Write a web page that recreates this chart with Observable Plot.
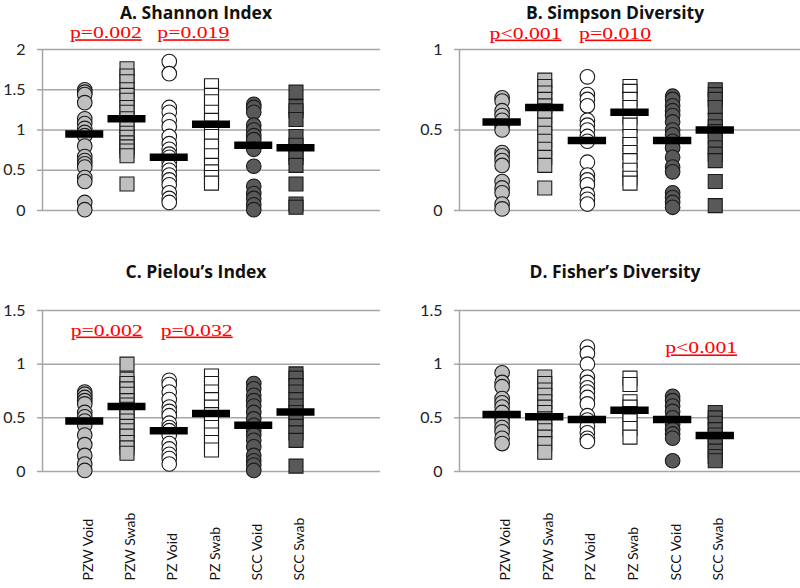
<!DOCTYPE html>
<html><head><meta charset="utf-8">
<script src="https://cdn.jsdelivr.net/npm/d3@7"></script>
<script src="https://cdn.jsdelivr.net/npm/@observablehq/plot@0.6"></script>
<style>
body{margin:0;background:#fff;}
#wrap{position:relative;width:800px;height:588px;overflow:hidden;background:#fff;}
.panel{position:absolute;}
.title{position:absolute;width:300px;text-align:center;font-family:"Open Sans",Lato,sans-serif;font-weight:bold;font-size:17.5px;line-height:16px;color:#111;white-space:nowrap;}
</style></head><body><div id="wrap"></div>
<script>
// ---- data ----
const categories = ["PZW Void","PZW Swab","PZ Void","PZ Swab","SCC Void","SCC Swab"];

const shannonValues = [
  [1.50,1.47,1.44,1.34,1.14,1.08,1.02,0.97,0.93,0.80,0.67,0.62,0.58,0.54,0.41,0.36,0.10,0.01],
  [1.76,1.67,1.60,1.50,1.43,1.37,1.28,1.22,1.14,1.04,0.96,0.91,0.84,0.79,0.74,0.68,0.33],
  [1.85,1.70,1.28,1.22,1.12,1.04,0.92,0.83,0.76,0.70,0.66,0.60,0.55,0.50,0.44,0.38,0.32,0.22,0.15,0.10],
  [1.55,1.43,1.35,1.22,1.12,1.02,0.92,0.80,0.68,0.56,0.48,0.41,0.34],
  [1.32,1.28,1.22,1.06,1.00,0.93,0.88,0.76,0.55,0.30,0.21,0.15,0.07,0.01],
  [1.47,1.29,1.24,1.13,0.92,0.81,0.71,0.66,0.56,0.33,0.08,0.04]
];
const shannonMeans = [0.95,1.14,0.66,1.07,0.81,0.78];

const simpsonValues = [
  [0.70,0.68,0.62,0.59,0.56,0.52,0.50,0.36,0.34,0.31,0.28,0.18,0.14,0.11,0.04,0.01],
  [0.81,0.77,0.73,0.69,0.65,0.62,0.58,0.53,0.48,0.43,0.38,0.33,0.28,0.14],
  [0.83,0.72,0.69,0.65,0.56,0.53,0.50,0.46,0.43,0.30,0.22,0.19,0.16,0.10,0.07,0.04],
  [0.77,0.74,0.69,0.64,0.58,0.53,0.46,0.41,0.36,0.31,0.25,0.20,0.17],
  [0.71,0.69,0.65,0.62,0.59,0.55,0.50,0.47,0.43,0.39,0.33,0.27,0.24,0.11,0.08,0.05,0.02],
  [0.75,0.72,0.69,0.64,0.56,0.52,0.49,0.45,0.39,0.35,0.31,0.18,0.03]
];
const simpsonMeans = [0.55,0.64,0.435,0.61,0.435,0.50];

const pielouValues = [
  [0.74,0.72,0.69,0.66,0.63,0.55,0.51,0.47,0.43,0.34,0.25,0.15,0.07,0.01],
  [1.00,0.86,0.82,0.77,0.72,0.66,0.62,0.58,0.52,0.47,0.42,0.38,0.33,0.27,0.22,0.17],
  [0.85,0.81,0.74,0.67,0.60,0.56,0.52,0.45,0.41,0.38,0.34,0.26,0.21,0.16,0.12,0.07],
  [0.89,0.82,0.74,0.67,0.60,0.53,0.47,0.41,0.34,0.27,0.20],
  [0.82,0.77,0.71,0.66,0.61,0.55,0.49,0.43,0.38,0.34,0.29,0.23,0.15,0.10,0.06,0.01],
  [0.91,0.87,0.80,0.74,0.67,0.61,0.55,0.49,0.42,0.36,0.29,0.05]
];
const pielouMeans = [0.47,0.605,0.38,0.54,0.43,0.555];

const fisherValues = [
  [0.92,0.83,0.79,0.68,0.64,0.60,0.55,0.49,0.46,0.41,0.37,0.31,0.26],
  [0.88,0.82,0.76,0.71,0.65,0.60,0.55,0.49,0.44,0.38,0.32,0.26,0.18],
  [1.16,1.10,1.00,0.88,0.83,0.78,0.74,0.69,0.63,0.52,0.48,0.42,0.36,0.31,0.28],
  [0.87,0.81,0.65,0.60,0.54,0.47,0.40,0.32],
  [0.70,0.66,0.61,0.56,0.50,0.44,0.39,0.35,0.31,0.10],
  [0.55,0.50,0.45,0.39,0.34,0.29,0.24,0.19,0.14,0.10]
];
const fisherMeans = [0.53,0.51,0.485,0.57,0.485,0.335];

// p-value annotations: text, x (between groups), y (value level)
const shannonP = [{t:"p=0.002", x:0.5, y:2.14},{t:"p=0.019", x:2.57, y:2.14}];
const simpsonP = [{t:"p<0.001", x:0.55, y:1.068},{t:"p=0.010", x:2.65, y:1.068}];
const pielouP  = [{t:"p=0.002", x:0.52, y:1.267},{t:"p=0.032", x:2.65, y:1.267}];
const fisherP  = [{t:"p<0.001", x:4.67, y:1.10}];

const shannonTicks = [0,0.5,1,1.5,2];
const simpsonTicks = [0,0.5,1];
const pielouTicks = [0,0.5,1,1.5];
const fisherTicks = [0,0.5,1,1.5];

// ---- styles ----
const fills = ["#bfbfbf","#bfbfbf","#ffffff","#ffffff","#595959","#595959"];
const gridColor = "#a6a6a6";
const pRed = "#ff0000";

function panel({title, values, means, ticks, yMax, pvals, left, top, mL, mR, height, mT, mB, labels, titleX, titleTop}) {
  const pts = values.flatMap((arr, g) => arr.map(v => ({g, v})));
  const mdata = means.map((m, g) => ({g, m}));
  const marks = [
    Plot.gridY(ticks, {stroke: gridColor, strokeOpacity: 1, strokeWidth: 1.5}),
    Plot.axisY(ticks, {tickSize: 5, tickPadding: 12, stroke: gridColor, strokeWidth: 1.5, tickFormat: d => String(d), fontSize: 16, fill: "#222"}),
    Plot.ruleX([-1], {stroke: gridColor, strokeWidth: 1.5}),
    Plot.dot(pts.filter(d => d.g % 2 === 0), {x: "g", y: "v", r: 7.3, symbol: "circle", fill: d => fills[d.g], stroke: "#1a1a1a", strokeWidth: 1.1}),
    Plot.dot(pts.filter(d => d.g % 2 === 1), {x: "g", y: "v", r: 7.9, symbol: "square", fill: d => fills[d.g], stroke: "#1a1a1a", strokeWidth: 1.1}),
    Plot.ruleY(mdata, {y: "m", x1: d => d.g - 0.45, x2: d => d.g + 0.45, stroke: "#000", strokeWidth: 7.5}),
    Plot.text(pvals, {x: "x", y: "y", text: "t", fill: pRed, fontFamily: "Liberation Serif", fontSize: 16, lineAnchor: "bottom", textAnchor: "middle"})
  ];
  if (labels) {
    marks.push(Plot.text(categories, {x: (d, i) => i, text: d => d, frameAnchor: "bottom", rotate: -90, textAnchor: "start", dy: 109, dx: 8, fontSize: 14, fill: "#111"}));
  }
  const chart = Plot.plot({
    width: 400, height,
    marginLeft: mL, marginRight: mR, marginTop: mT, marginBottom: mB,
    x: {domain: [-1, 7], axis: null},
    y: {domain: [0, yMax], axis: null},
    color: {type: "identity"},
    style: {fontFamily: "Lato, 'Open Sans', sans-serif", fontSize: "16px", background: "transparent", overflow: "visible"},
    marks
  });
  const pvTexts = new Set(pvals.map(d => d.t));
  d3.select(chart).selectAll("text")
    .filter(function() { return pvTexts.has(this.textContent); })
    .style("text-decoration", "underline")
    .attr("textLength", 72)
    .attr("lengthAdjust", "spacingAndGlyphs");
  const holder = document.createElement("div");
  holder.className = "panel";
  holder.style.left = left + "px";
  holder.style.top = top + "px";
  holder.appendChild(chart);
  const wrap = document.getElementById("wrap");
  wrap.appendChild(holder);
  const t = document.createElement("div");
  t.className = "title";
  t.textContent = title;
  t.style.left = (titleX - 150) + "px";
  t.style.top = titleTop + "px";
  wrap.appendChild(t);
}

panel({title: "A. Shannon Index", values: shannonValues, means: shannonMeans, ticks: shannonTicks, yMax: 2, pvals: shannonP,
  left: 0, top: 0, mL: 42, mR: 20, height: 230, mT: 49, mB: 20, labels: false, titleX: 196, titleTop: 4});
panel({title: "B. Simpson Diversity", values: simpsonValues, means: simpsonMeans, ticks: simpsonTicks, yMax: 1, pvals: simpsonP,
  left: 400, top: 0, mL: 59, mR: 0, height: 230, mT: 49, mB: 20, labels: false, titleX: 615, titleTop: 4});
panel({title: "C. Pielou\u2019s Index", values: pielouValues, means: pielouMeans, ticks: pielouTicks, yMax: 1.5, pvals: pielouP,
  left: 0, top: 240, mL: 42, mR: 20, height: 348, mT: 70, mB: 117, labels: true, titleX: 196, titleTop: 263});
panel({title: "D. Fisher\u2019s Diversity", values: fisherValues, means: fisherMeans, ticks: fisherTicks, yMax: 1.5, pvals: fisherP,
  left: 400, top: 240, mL: 59, mR: 0, height: 348, mT: 70, mB: 117, labels: true, titleX: 615, titleTop: 263});
</script></body></html>
